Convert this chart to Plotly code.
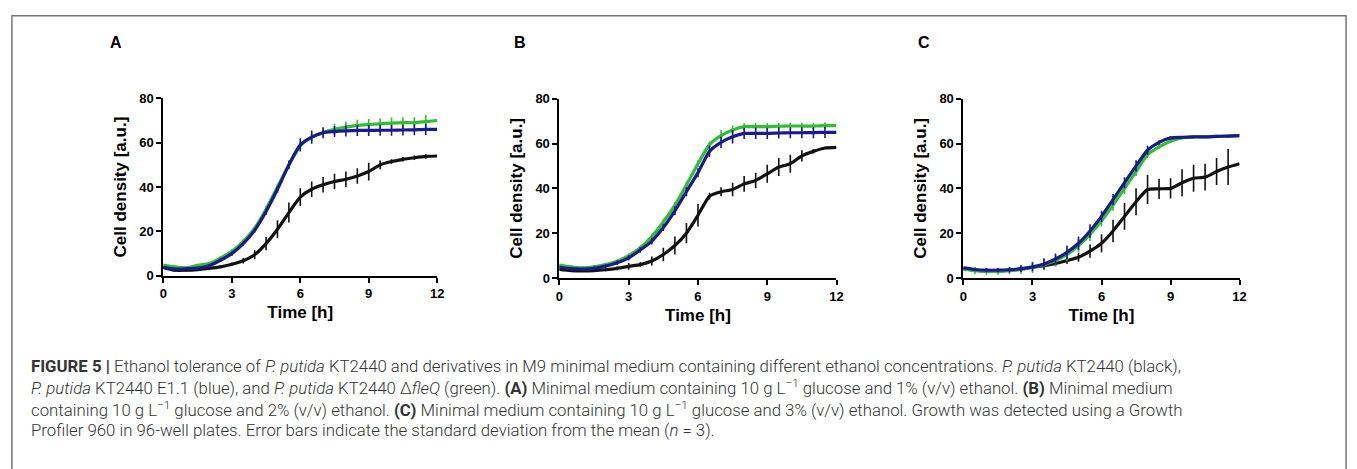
import plotly.graph_objects as go

W, H = 1357, 469

time_h = [0, 0.5, 1, 1.5, 2, 2.5, 3, 3.5, 4, 4.5, 5, 5.5, 6, 6.5, 7, 7.5, 8, 8.5, 9, 9.5, 10, 10.5, 11, 11.5, 12]

# Panel A: 1% ethanol
a_black = [3.8, 2.5, 2.5, 2.8, 3.3, 4.0, 5.2, 6.8, 9.5, 14.5, 21, 28.5, 35.5, 39, 41, 42.5, 43.5, 45, 47, 50, 51.5, 52.5, 53.2, 53.8, 54]
a_black_err = [0.5, 0.5, 0.5, 0.5, 0.5, 0.6, 0.8, 1.2, 2, 3, 4, 4.5, 4, 3.5, 3.5, 3.5, 3.5, 3.5, 4, 2, 1, 1, 1, 1, 0]
a_green = [4.8, 4.0, 3.6, 4.7, 5.5, 8, 11, 15.5, 21.5, 30, 40, 50, 58.5, 62.5, 64.5, 66, 67, 67.8, 68.2, 68.5, 68.8, 69, 69, 69.5, 70]
a_green_err = [0.5, 0.5, 0.5, 0.6, 0.8, 0.8, 1, 1, 1, 1.5, 1.5, 1.5, 2, 2, 2, 2.5, 2.5, 2.5, 2.5, 2.5, 2.5, 2.5, 2.5, 3, 0]
a_blue = [3.8, 3.0, 3.2, 3.5, 4.5, 7, 10, 14.5, 20.5, 29, 39, 50, 59, 62.5, 64.5, 65, 65.3, 65.5, 65.5, 65.6, 65.6, 65.7, 65.8, 66, 66]
a_blue_err = [0.5, 0.5, 0.5, 0.5, 0.6, 0.8, 1, 1, 1, 1.5, 1.5, 2, 3, 3, 2.5, 2.5, 2.5, 2.5, 2.5, 2.5, 2.5, 2.5, 2.5, 2.5, 0]

# Panel B: 2% ethanol
b_black = [3.8, 3.3, 3.2, 3.3, 3.7, 4.3, 5.2, 6.0, 7.6, 10.5, 14.5, 20, 28, 36.5, 38.5, 39.5, 42, 43.5, 46.5, 49.5, 51, 54.5, 56.5, 58, 58.3]
b_black_err = [0.5, 0.5, 0.5, 0.5, 0.7, 0.8, 1.5, 1, 2, 3, 4, 4.5, 5, 1.5, 2, 3, 3.5, 3.5, 4, 4, 4, 2.5, 1, 0.5, 0]
b_green = [5.8, 5.0, 4.5, 5.0, 6.0, 7.5, 10, 13.5, 18.5, 25, 32.5, 41.5, 51, 59.5, 63.5, 66, 67.5, 67.5, 67.5, 67.7, 67.8, 67.8, 67.8, 68, 68]
b_green_err = [0.7, 0.7, 0.7, 0.8, 0.8, 0.8, 1, 1, 1.2, 1.5, 1.5, 1.5, 1.5, 1.5, 2.5, 2, 1.5, 1.5, 1.5, 1.5, 1.5, 1.5, 1.5, 1.5, 0]
b_blue = [4.8, 4.2, 4.0, 4.3, 5.3, 6.8, 9, 12.5, 16.5, 22.5, 30, 38.5, 47, 56.5, 60.5, 63, 64.5, 64.5, 64.5, 64.7, 64.8, 64.8, 64.9, 65, 65]
b_blue_err = [0.7, 0.7, 0.7, 0.8, 0.8, 1, 1.2, 1.2, 1.5, 1.5, 2, 2, 2, 2.5, 2.5, 3, 2.5, 2.5, 2.5, 2.5, 2.5, 2.5, 2.5, 2.5, 0]

# Panel C: 3% ethanol
c_black = [4.3, 3.5, 3.2, 3.2, 3.5, 4.0, 4.8, 5.5, 6.5, 7.8, 9.3, 12, 15.5, 21, 27.5, 34, 39.5, 39.8, 40, 42.5, 44.5, 45, 47.5, 49.5, 51]
c_black_err = [0.5, 0.5, 0.5, 0.5, 0.6, 0.7, 0.8, 1, 1.2, 1.5, 2, 3, 4, 5, 6, 6, 6.5, 4.5, 4.5, 6, 6, 6, 6, 8, 0]
c_green = [4.0, 3.3, 3.0, 3.0, 3.3, 3.8, 4.8, 6.0, 7.8, 10.5, 14.5, 19.5, 25.5, 32.5, 40, 47.5, 55, 58.5, 61, 62.5, 63, 63, 63.2, 63.3, 63.5]
c_green_err = [1, 1.5, 1.5, 1.5, 1.5, 2, 2.5, 2.5, 2.5, 3, 3, 3, 2.5, 2.5, 2.5, 2, 1.5, 1, 0.8, 0.6, 0.5, 0.5, 0.5, 0.5, 0]
c_blue = [4.5, 3.8, 3.5, 3.5, 3.7, 4.2, 5.0, 6.3, 8.5, 11.5, 15.5, 21, 27.5, 35, 42.5, 50, 57, 60.5, 62.5, 62.8, 63, 63, 63.2, 63.3, 63.5]
c_blue_err = [0.5, 0.8, 1, 1, 1.2, 1.5, 2, 2.5, 2.5, 3, 3, 3, 2.5, 2.5, 2.5, 2.5, 2, 1, 0.8, 0.6, 0.5, 0.5, 0.5, 0.5, 0]

panel_labels = ["A", "B", "C"]
x_ticks = [0, 3, 6, 9, 12]
y_ticks = [0, 20, 40, 60, 80]
x_title = "Time [h]"
y_title = "Cell density [a.u.]"

caption_lines = [
    "<b>FIGURE 5 |</b> Ethanol tolerance of <i>P. putida</i> KT2440 and derivatives in M9 minimal medium containing different ethanol concentrations. <i>P. putida</i> KT2440 (black),",
    "<i>P. putida</i> KT2440 E1.1 (blue), and <i>P. putida</i> KT2440 Δ<i>fleQ</i> (green). <b>(A)</b> Minimal medium containing 10 g L<sup>−1</sup> glucose and 1% (v/v) ethanol. <b>(B)</b> Minimal medium",
    "containing 10 g L<sup>−1</sup> glucose and 2% (v/v) ethanol. <b>(C)</b> Minimal medium containing 10 g L<sup>−1</sup> glucose and 3% (v/v) ethanol. Growth was detected using a Growth",
    "Profiler 960 in 96-well plates. Error bars indicate the standard deviation from the mean (<i>n</i> = 3).",
]

BLACK = "#111111"
GREEN = "#2fbf2f"
BLUE = "#1a1a8f"

panels = [
    (a_black, a_black_err, a_green, a_green_err, a_blue, a_blue_err),
    (b_black, b_black_err, b_green, b_green_err, b_blue, b_blue_err),
    (c_black, c_black_err, c_green, c_green_err, c_blue, c_blue_err),
]

# plot-area pixel boxes (left, right, top, bottom)
boxes = [(160.7, 436.7, 94.3, 277.7), (560, 839.3, 94.7, 280), (967.3, 1245.7, 94.7, 280)]

fig = go.Figure()
FONT = "Liberation Sans, Arial, sans-serif"
CAPFONT = "Roboto, Liberation Sans, sans-serif"

for i, (data, box) in enumerate(zip(panels, boxes)):
    n = "" if i == 0 else str(i + 1)
    xa, ya = "x" + n, "y" + n
    bk, bke, gr, gre, bl, ble = data
    for ys, es, col in [(bk, bke, BLACK), (gr, gre, GREEN), (bl, ble, BLUE)]:
        fig.add_trace(go.Scatter(
            x=time_h, y=ys, xaxis=xa, yaxis=ya, mode="lines",
            line=dict(color=col, width=3.2, shape="spline", smoothing=0.6),
            error_y=dict(type="data", array=es, visible=True, color=col, thickness=1.6, width=0),
            cliponaxis=False, showlegend=False, hoverinfo="skip",
        ))
    l, r, t, b = box
    fig.layout["xaxis" + n] = dict(
        domain=[l / W, r / W], anchor=ya, range=[0, 12], tickvals=x_ticks,
        showline=True, linecolor="black", linewidth=2, ticks="outside", ticklen=5, tickwidth=2,
        tickcolor="black", showgrid=False, zeroline=False,
        tickfont=dict(family=FONT, size=13, color="black", weight="bold"),
        title=dict(text=x_title, font=dict(family=FONT, size=17, color="black", weight="bold"), standoff=6),
    )
    fig.layout["yaxis" + n] = dict(
        domain=[1 - b / H, 1 - t / H], anchor=xa, range=[0, 80], tickvals=y_ticks,
        showline=True, linecolor="black", linewidth=2, ticks="outside", ticklen=5, tickwidth=2,
        tickcolor="black", showgrid=False, zeroline=False,
        tickfont=dict(family=FONT, size=13, color="black", weight="bold"),
        title=dict(text=y_title, font=dict(family=FONT, size=17, color="black", weight="bold"), standoff=8),
    )

label_x = [113, 520, 928]
annotations = []
for lab, lx in zip(panel_labels, label_x):
    annotations.append(dict(
        text="<b>" + lab + "</b>", x=lx / W, y=1 - 37 / H, xref="paper", yref="paper",
        xanchor="center", yanchor="middle", showarrow=False,
        font=dict(family=FONT, size=16, color="black"),
    ))

cap_y = [371, 393, 415, 437]
for line, cy in zip(caption_lines, cap_y):
    annotations.append(dict(
        text=line, x=25 / W, y=1 - cy / H, xref="paper", yref="paper",
        xanchor="left", yanchor="middle", showarrow=False,
        font=dict(family=CAPFONT, size=16.8, color="#333333", weight=300),
    ))

shapes = [dict(
    type="rect", xref="paper", yref="paper",
    x0=8 / W, x1=1353 / W, y0=-0.2, y1=1 - 9 / H,
    line=dict(color="#777777", width=1.5), fillcolor="rgba(0,0,0,0)",
)]

fig.update_layout(
    width=W, height=H, margin=dict(l=0, r=0, t=0, b=0),
    paper_bgcolor="white", plot_bgcolor="white",
    annotations=annotations, shapes=shapes,
    font=dict(family=FONT),
)

post = """
var st = document.createElement('style');
st.textContent = 'html,body{margin:0;padding:0;overflow:hidden;width:1357px;height:469px;}';
document.head.appendChild(st);
"""

fig.write_html("out.html", config={"displayModeBar": False}, post_script=post)
